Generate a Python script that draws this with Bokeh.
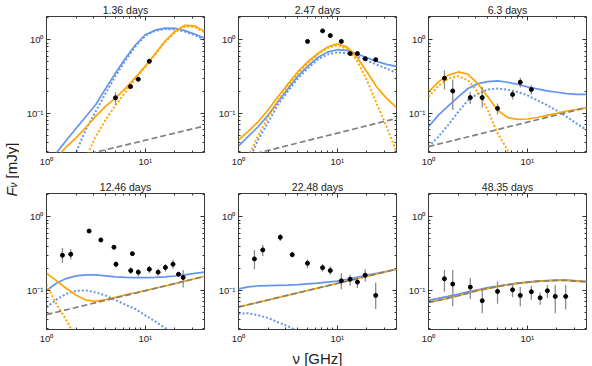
import math
from bokeh.plotting import figure
from bokeh.models import LogAxis, FixedTicker, Range1d
from bokeh.layouts import row, column
from bokeh.embed import file_html
from bokeh.resources import INLINE
from bokeh.core.properties import value

# ---------------- data ----------------
NU = [1.0, 1.26, 1.58, 2.0, 2.51, 3.16, 3.98, 5.01, 6.31, 7.94, 10.0,
      12.6, 15.8, 20.0, 25.1, 31.6, 39.8]
NU_ENDS = [1.0, 39.8]

TITLES = ["1.36 days", "2.47 days", "6.3 days", "12.46 days", "22.48 days", "48.35 days"]

# panel 1
P1_BLUE = [0.018, 0.029, 0.043, 0.063, 0.091, 0.132, 0.219, 0.355, 0.56, 0.85, 1.17,
           1.35, 1.44, 1.43, 1.33, 1.2, 1.05]
P1_BLUE_DOT = [0.002, 0.005, 0.0126, 0.030, 0.061, 0.107, 0.19, 0.324, 0.525, 0.81, 1.135,
               1.32, 1.40, 1.38, 1.29, 1.16, 1.0]
P1_ORANGE = [0.014, 0.025, 0.035, 0.047, 0.065, 0.092, 0.126, 0.163, 0.219, 0.309, 0.436,
             0.646, 0.955, 1.30, 1.57, 1.55, 1.30]
P1_ORANGE_DOT = [0.0005, 0.001, 0.003, 0.01, 0.025, 0.049, 0.083, 0.129, 0.195, 0.30, 0.427,
                 0.63, 0.93, 1.26, 1.51, 1.50, 1.26]
P1_GRAY = [0.0206, 0.0675]
P1_NU = [5.0, 7.1, 8.5, 11.0]
P1_F = [0.163, 0.232, 0.291, 0.51]
P1_LO = [0.130, 0.216, 0.274, 0.488]
P1_HI = [0.194, 0.249, 0.309, 0.533]

# panel 2
P2_BLUE = [0.036, 0.049, 0.066, 0.095, 0.144, 0.214, 0.32, 0.436, 0.57, 0.68, 0.733,
           0.718, 0.646, 0.571, 0.509, 0.464, 0.436]
P2_BLUE_DOT = [0.0126, 0.0224, 0.0436, 0.076, 0.132, 0.2, 0.297, 0.407, 0.537, 0.63, 0.675,
               0.66, 0.596, 0.525, 0.459, 0.407, 0.355]
P2_ORANGE = [0.0436, 0.0575, 0.077, 0.112, 0.168, 0.251, 0.366, 0.50, 0.646, 0.794, 0.883,
             0.794, 0.583, 0.366, 0.229, 0.16, 0.12]
P2_ORANGE_DOT = [0.01, 0.0263, 0.05, 0.089, 0.148, 0.234, 0.347, 0.479, 0.631, 0.776, 0.838,
                 0.759, 0.526, 0.282, 0.136, 0.066, 0.030]
P2_GRAY = [0.025, 0.0857]
P2_NU = [5.0, 7.1, 8.5, 11.0, 13.5, 16.0, 19.2, 24.5]
P2_F = [0.95, 1.32, 1.14, 0.95, 0.65, 0.65, 0.553, 0.537]
P2_LO = [0.92, 1.28, 1.10, 0.92, 0.625, 0.625, 0.53, 0.515]
P2_HI = [0.98, 1.36, 1.18, 0.98, 0.675, 0.675, 0.576, 0.56]

# panel 3
P3_BLUE = [0.066, 0.095, 0.126, 0.168, 0.218, 0.254, 0.271, 0.276, 0.265, 0.249, 0.229,
           0.216, 0.202, 0.194, 0.186, 0.182, 0.181]
P3_BLUE_DOT = [0.0355, 0.0484, 0.0695, 0.105, 0.151, 0.186, 0.211, 0.218, 0.211, 0.196, 0.177,
               0.151, 0.13, 0.109, 0.09, 0.073, 0.0596]
P3_ORANGE = [0.196, 0.268, 0.33, 0.366, 0.34, 0.254, 0.168, 0.111, 0.088, 0.083, 0.084,
             0.088, 0.094, 0.1, 0.108, 0.113, 0.12]
P3_ORANGE_DOT = [0.168, 0.237, 0.297, 0.32, 0.282, 0.196, 0.111, 0.0537, 0.032, 0.0126, 0.004,
                 0.001, 0.0003, 0.0001, 0.0001, 0.0001, 0.0001]
P3_GRAY = [0.0355, 0.12]
P3_NU = [1.45, 1.76, 2.65, 3.5, 5.0, 7.1, 8.5, 11.0]
P3_F = [0.30, 0.202, 0.164, 0.164, 0.117, 0.181, 0.265, 0.211]
P3_LO = [0.211, 0.111, 0.134, 0.12, 0.097, 0.155, 0.225, 0.181]
P3_HI = [0.385, 0.288, 0.196, 0.229, 0.136, 0.207, 0.306, 0.241]

# panel 4
P4_BLUE = [0.10, 0.125, 0.145, 0.158, 0.163, 0.163, 0.158, 0.153, 0.15, 0.149, 0.149,
           0.15, 0.153, 0.157, 0.163, 0.17, 0.177]
P4_BLUE_DOT = [0.059, 0.075, 0.09, 0.099, 0.1, 0.094, 0.085, 0.074, 0.064, 0.056, 0.046,
               0.038, 0.031, 0.026, 0.021, 0.017, 0.014]
P4_ORANGE = [0.171, 0.136, 0.107, 0.086, 0.074, 0.071, 0.075, 0.0805, 0.087, 0.093, 0.0995,
             0.107, 0.115, 0.124, 0.134, 0.144, 0.156]
P4_ORANGE_DOT = [0.12, 0.065, 0.04, 0.022, 0.012, 0.006, 0.003, 0.0015, 0.001, 0.0005, 0.0002,
                 0.0001, 0.0001, 0.0001, 0.0001, 0.0001, 0.0001]
P4_GRAY = [0.047, 0.155]
P4_NU = [1.45, 1.76, 2.7, 3.55, 4.82, 5.05, 7.13, 7.41, 8.5, 11.0, 13.5, 16.0, 19.1, 21.7, 24.2]
P4_F = [0.30, 0.31, 0.64, 0.484, 0.386, 0.227, 0.186, 0.316, 0.177, 0.194, 0.177, 0.205,
        0.227, 0.166, 0.15]
P4_LO = [0.235, 0.265, 0.64, 0.46, 0.386, 0.205, 0.167, 0.316, 0.155, 0.171, 0.158, 0.181,
         0.198, 0.158, 0.11]
P4_HI = [0.377, 0.363, 0.64, 0.51, 0.386, 0.247, 0.207, 0.316, 0.195, 0.216, 0.197, 0.23,
         0.26, 0.175, 0.19]

# panel 5
P5_BLUE = [0.105, 0.112, 0.115, 0.116, 0.117, 0.118, 0.12, 0.123, 0.126, 0.13, 0.134,
           0.142, 0.151, 0.161, 0.171, 0.182, 0.194]
P5_BLUE_DOT = [0.0484, 0.049, 0.046, 0.0423, 0.037, 0.0326, 0.028, 0.022, 0.017, 0.013, 0.01,
               0.008, 0.006, 0.005, 0.004, 0.003, 0.002]
P5_ORANGE = [0.0596, 0.194]
P5_GRAY = [0.0596, 0.194]
P5_NU = [1.45, 1.76, 2.65, 3.5, 5.0, 7.1, 8.5, 11.0, 13.5, 16.0, 19.2, 24.5]
P5_F = [0.268, 0.355, 0.526, 0.306, 0.234, 0.204, 0.186, 0.135, 0.142, 0.13, 0.161, 0.0856]
P5_LO = [0.194, 0.294, 0.469, 0.282, 0.2, 0.181, 0.163, 0.104, 0.116, 0.108, 0.132, 0.056]
P5_HI = [0.355, 0.414, 0.583, 0.336, 0.265, 0.229, 0.211, 0.171, 0.163, 0.155, 0.194, 0.128]

# panel 6
P6_BLUE = [0.0733, 0.078, 0.083, 0.089, 0.096, 0.102, 0.109, 0.115, 0.12, 0.126, 0.13,
           0.134, 0.136, 0.138, 0.138, 0.135, 0.132]
P6_ORANGE = [0.0688, 0.0733, 0.0787, 0.0847, 0.092, 0.1, 0.106, 0.113, 0.119, 0.125, 0.129,
             0.133, 0.135, 0.137, 0.137, 0.134, 0.131]
P6_GRAY = [0.0688, 0.0733, 0.0787, 0.0847, 0.092, 0.1, 0.106, 0.113, 0.119, 0.125, 0.129,
           0.133, 0.135, 0.137, 0.137, 0.134, 0.131]
P6_NU = [1.45, 1.76, 2.65, 3.5, 5.0, 7.1, 8.5, 11.0, 13.5, 16.0, 19.2, 24.5]
P6_F = [0.144, 0.122, 0.111, 0.0725, 0.097, 0.102, 0.0856, 0.096, 0.0795, 0.099, 0.083, 0.083]
P6_LO = [0.096, 0.061, 0.076, 0.049, 0.066, 0.081, 0.061, 0.075, 0.064, 0.079, 0.049, 0.055]
P6_HI = [0.19, 0.19, 0.147, 0.102, 0.132, 0.126, 0.111, 0.116, 0.094, 0.119, 0.119, 0.119]

X_TICKS = [1, 10]
X_MINOR = [2, 3, 4, 5, 6, 7, 8, 9, 20, 30]
Y_TICKS = [0.1, 1]
Y_MINOR = [0.03, 0.04, 0.05, 0.06, 0.07, 0.08, 0.09, 0.2, 0.3, 0.4, 0.5, 0.6, 0.7, 0.8, 0.9, 2]
X_LABELS = {1: "10⁰", 10: "10¹"}
Y_LABELS = {0.1: "10⁻¹", 1: "10⁰"}
X_BLANK = {1: "", 10: ""}
Y_BLANK = {0.1: "", 1: ""}

# ---------------- styling ----------------
BLUE = "#6495ED"
ORANGE = "#FFA500"
GRAY = "#808080"
FONT = "Liberation Sans"
TICK_C = "#333333"

FRAME_W = 158
FRAME_H = 136
LEFT_BORDER = [27, 30, 30]
RIGHT_BORDER = [4, 2, 2]


def style_axis(ax, labels, blank=False):
    ax.major_tick_in = 4
    ax.major_tick_out = 0
    ax.minor_tick_in = 2
    ax.minor_tick_out = 0
    ax.axis_line_color = None
    ax.major_tick_line_color = TICK_C
    ax.minor_tick_line_color = TICK_C
    ax.major_label_text_font = FONT
    ax.major_label_text_font_size = "9.5px"
    ax.major_label_text_color = "#222222"
    ax.major_label_standoff = 3
    ax.major_label_overrides = labels
    if blank:
        ax.major_label_text_font_size = "1px"
        ax.major_label_standoff = 0


def make_panel(idx, curves, data, xlabel=None):
    col = idx % 3
    bottom_row = idx >= 3
    p = figure(x_axis_type="log", y_axis_type="log",
               x_range=Range1d(1.0, 39.8), y_range=Range1d(0.0295, 2.07),
               frame_width=FRAME_W, frame_height=FRAME_H,
               min_border_left=LEFT_BORDER[col],
               min_border_right=RIGHT_BORDER[col],
               min_border_top=16,
               min_border_bottom=34 if bottom_row else 25,
               output_backend="svg", toolbar_location=None,
               background_fill_color="white", border_fill_color="white")
    p.title.text = TITLES[idx]
    p.title.align = "center"
    p.title.text_font = FONT
    p.title.text_font_size = "10.5px"
    p.title.text_font_style = "normal"
    p.title.text_color = "#222222"
    p.title.standoff = 2
    p.grid.visible = False
    p.outline_line_color = "#3a3a3a"
    p.outline_line_width = 1

    bottom_axis = p.below[0]
    left_axis = p.left[0]
    bottom_axis.ticker = FixedTicker(ticks=X_TICKS, minor_ticks=X_MINOR)
    left_axis.ticker = FixedTicker(ticks=Y_TICKS, minor_ticks=Y_MINOR)
    style_axis(bottom_axis, X_LABELS)
    style_axis(left_axis, Y_LABELS)
    top = LogAxis(ticker=FixedTicker(ticks=X_TICKS, minor_ticks=X_MINOR))
    right = LogAxis(ticker=FixedTicker(ticks=Y_TICKS, minor_ticks=Y_MINOR))
    style_axis(top, X_BLANK, blank=True)
    style_axis(right, Y_BLANK, blank=True)
    p.add_layout(top, "above")
    p.add_layout(right, "right")

    if xlabel:
        bottom_axis.axis_label = xlabel
        bottom_axis.axis_label_text_font = FONT
        bottom_axis.axis_label_text_font_size = "15px"
        bottom_axis.axis_label_text_font_style = "normal"
        bottom_axis.axis_label_text_color = "#222222"
        bottom_axis.axis_label_standoff = 3

    for (xs, ys, color, dash) in curves:
        if dash == "solid":
            p.line(xs, ys, line_color=color, line_width=1.7)
        elif dash == "dot":
            p.line(xs, ys, line_color=color, line_width=2.0, line_dash="2 2")
        else:
            p.line(xs, ys, line_color=color, line_width=1.7, line_dash="6 3")

    nu, f, lo, hi = data
    p.segment(x0=nu, y0=lo, x1=nu, y1=hi, line_color="#8c8c8c", line_width=1.3)
    p.scatter(nu, f, size=4, fill_color="black", line_color="black")
    return p


panels = [
    make_panel(0, [(NU, P1_BLUE, BLUE, "solid"), (NU, P1_BLUE_DOT, BLUE, "dot"),
                   (NU, P1_ORANGE, ORANGE, "solid"), (NU, P1_ORANGE_DOT, ORANGE, "dot"),
                   (NU_ENDS, P1_GRAY, GRAY, "dash")],
               (P1_NU, P1_F, P1_LO, P1_HI)),
    make_panel(1, [(NU, P2_BLUE, BLUE, "solid"), (NU, P2_BLUE_DOT, BLUE, "dot"),
                   (NU, P2_ORANGE, ORANGE, "solid"), (NU, P2_ORANGE_DOT, ORANGE, "dot"),
                   (NU_ENDS, P2_GRAY, GRAY, "dash")],
               (P2_NU, P2_F, P2_LO, P2_HI)),
    make_panel(2, [(NU, P3_BLUE, BLUE, "solid"), (NU, P3_BLUE_DOT, BLUE, "dot"),
                   (NU, P3_ORANGE, ORANGE, "solid"), (NU, P3_ORANGE_DOT, ORANGE, "dot"),
                   (NU_ENDS, P3_GRAY, GRAY, "dash")],
               (P3_NU, P3_F, P3_LO, P3_HI)),
    make_panel(3, [(NU, P4_BLUE, BLUE, "solid"), (NU, P4_BLUE_DOT, BLUE, "dot"),
                   (NU, P4_ORANGE, ORANGE, "solid"), (NU, P4_ORANGE_DOT, ORANGE, "dot"),
                   (NU_ENDS, P4_GRAY, GRAY, "dash")],
               (P4_NU, P4_F, P4_LO, P4_HI)),
    make_panel(4, [(NU, P5_BLUE, BLUE, "solid"), (NU, P5_BLUE_DOT, BLUE, "dot"),
                   (NU_ENDS, P5_ORANGE, ORANGE, "solid"),
                   (NU_ENDS, P5_GRAY, GRAY, "dash")],
               (P5_NU, P5_F, P5_LO, P5_HI), xlabel="ν [GHz]"),
    make_panel(5, [(NU, P6_BLUE, BLUE, "solid"),
                   (NU, P6_ORANGE, ORANGE, "solid"),
                   (NU, P6_GRAY, GRAY, "dash")],
               (P6_NU, P6_F, P6_LO, P6_HI)),
]

# shared y label (its own small canvas, spanning both rows)
LAB_H = 363
LAB_W = 19
lab = figure(width=LAB_W, height=LAB_H, x_range=Range1d(0, LAB_W), y_range=Range1d(0, LAB_H),
             x_axis_location=None, y_axis_location=None, min_border=0,
             output_backend="svg", toolbar_location=None, outline_line_color=None)
lab.grid.visible = False
common = dict(angle=math.pi / 2, text_align="left", text_baseline="middle",
              text_font=value(FONT), text_color="#222222")
lab.text(x=[10.5], y=[167], text=["F"], text_font_style="italic", text_font_size="15px", **common)
lab.text(x=[12.5], y=[176], text=["ν"], text_font_style="italic", text_font_size="10px", **common)
lab.text(x=[10.5], y=[185], text=["[mJy]"], text_font_size="15px", **common)

layout = row(lab, column(row(*panels[:3]), row(*panels[3:])))

open("out.html", "w").write(file_html(layout, INLINE))
